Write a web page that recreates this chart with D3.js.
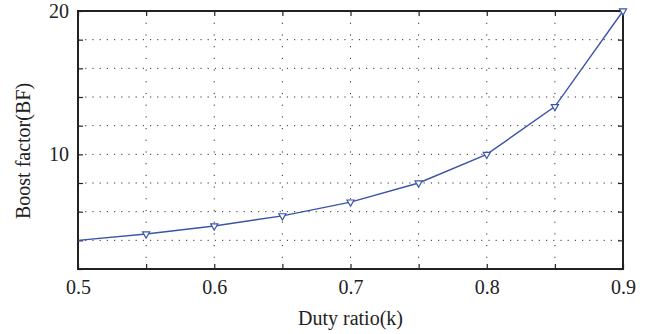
<!DOCTYPE html>
<html>
<head>
<meta charset="utf-8">
<script src="https://cdn.jsdelivr.net/npm/d3@7"></script>
<style>
  body { margin: 0; background: #fff; }
  text { font-family: "Liberation Serif", "DejaVu Serif", serif; fill: #222; }
</style>
</head>
<body>
<div id="chart"></div>
<script>
// duty ratio vs boost factor
const dutyRatio = [0.5, 0.55, 0.6, 0.65, 0.7, 0.75, 0.8, 0.85, 0.9];
const boostFactor = [4.0, 4.44, 5.0, 5.71, 6.67, 8.0, 10.0, 13.33, 20.0];
const xTicks = [0.5, 0.55, 0.6, 0.65, 0.7, 0.75, 0.8, 0.85, 0.9];
const xTickLabels = ["0.5", "", "0.6", "", "0.7", "", "0.8", "", "0.9"];
const yTicks = [2, 4, 6, 8, 10, 12, 14, 16, 18, 20];
const yTickLabels = ["", "", "", "", "10", "", "", "", "", "20"];

const width = 649, height = 334;
const margin = {top: 11, right: 26, bottom: 65, left: 78};
const w = width - margin.left - margin.right;
const h = height - margin.top - margin.bottom;
const fontSize = 20;

const svg = d3.select("#chart").append("svg")
    .attr("width", width)
    .attr("height", height);

const g = svg.append("g")
    .attr("transform", "translate(" + margin.left + "," + margin.top + ")");

const x = d3.scaleLinear().domain([0.5, 0.9]).range([0, w]);
const y = d3.scaleLinear().domain([2, 20]).range([h, 0]);

// grid
g.append("g").selectAll("line")
    .data(yTicks.slice(1, -1))
    .enter().append("line")
    .attr("x1", 0).attr("x2", w)
    .attr("y1", d => y(d)).attr("y2", d => y(d))
    .attr("stroke", "#333")
    .attr("stroke-width", 1)
    .attr("stroke-dasharray", "1.2,6");

g.append("g").selectAll("line")
    .data(xTicks.slice(1, -1))
    .enter().append("line")
    .attr("x1", d => x(d)).attr("x2", d => x(d))
    .attr("y1", 0).attr("y2", h)
    .attr("stroke", "#333")
    .attr("stroke-width", 1)
    .attr("stroke-dasharray", "1.2,10.5");

// axes, ticks drawn inward
const xAxis = d3.axisBottom(x).tickValues(xTicks)
    .tickFormat((d, i) => xTickLabels[i]).tickSizeInner(-5).tickSizeOuter(0).tickPadding(11);
const yAxis = d3.axisLeft(y).tickValues(yTicks)
    .tickFormat((d, i) => yTickLabels[i]).tickSizeInner(-5).tickSizeOuter(0).tickPadding(9);

g.append("g")
    .attr("transform", "translate(0," + h + ")")
    .call(xAxis)
    .call(a => a.selectAll("text").attr("font-size", fontSize).attr("font-family", "Liberation Serif"));

g.append("g")
    .call(d3.axisTop(x).tickValues(xTicks).tickFormat("").tickSizeInner(-5).tickSizeOuter(0));

g.append("g")
    .call(yAxis)
    .call(a => a.selectAll("text").attr("font-size", fontSize).attr("font-family", "Liberation Serif"));

g.append("g")
    .attr("transform", "translate(" + w + ",0)")
    .call(d3.axisRight(y).tickValues(yTicks).tickFormat("").tickSizeInner(-5).tickSizeOuter(0));

g.selectAll(".domain").remove();
g.selectAll(".tick line").attr("stroke", "#222").attr("stroke-width", 1.2);
g.selectAll(".tick text").attr("fill", "#222");

// frame
g.append("rect")
    .attr("width", w).attr("height", h)
    .attr("fill", "none")
    .attr("stroke", "#222")
    .attr("stroke-width", 2);

// series
const pts = dutyRatio.map((d, i) => [d, boostFactor[i]]);
g.append("path")
    .datum(pts)
    .attr("fill", "none")
    .attr("stroke", "#3b54a8")
    .attr("stroke-width", 1.4)
    .attr("d", d3.line().x(d => x(d[0])).y(d => y(d[1])));

const tri = d3.symbol().type(d3.symbolTriangle).size(22);
g.selectAll(".mk")
    .data(pts.slice(1))
    .enter().append("path")
    .attr("class", "mk")
    .attr("d", tri)
    .attr("transform", d => "translate(" + x(d[0]) + "," + y(d[1]) + ") rotate(180)")
    .attr("fill", "#fff")
    .attr("stroke", "#3b54a8")
    .attr("stroke-width", 1.2);

// labels
svg.append("text")
    .attr("x", margin.left + w / 2)
    .attr("y", 325)
    .attr("text-anchor", "middle")
    .attr("font-size", fontSize)
    .text("Duty ratio(k)");

svg.append("text")
    .attr("transform", "translate(30,151) rotate(-90)")
    .attr("text-anchor", "middle")
    .attr("font-size", fontSize)
    .text("Boost factor(BF)");
</script>
</body>
</html>
